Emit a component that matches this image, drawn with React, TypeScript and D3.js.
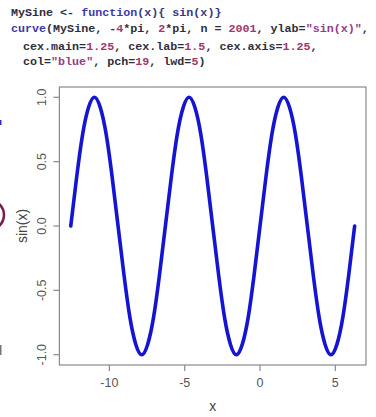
import React from "react";
import * as d3 from "d3";

// Curve samples (x in radians, y = plotted value)
const xValues = [
  -12.566, -12.174, -11.781, -11.388, -10.996, -10.603, -10.21, -9.817,
  -9.425, -9.032, -8.639, -8.247, -7.854, -7.461, -7.069, -6.676,
  -6.283, -5.89, -5.498, -5.105, -4.712, -4.32, -3.927, -3.534,
  -3.142, -2.749, -2.356, -1.963, -1.571, -1.178, -0.785, -0.393,
  0, 0.393, 0.785, 1.178, 1.571, 1.963, 2.356, 2.749,
  3.142, 3.534, 3.927, 4.32, 4.712, 5.105, 5.498, 5.89, 6.283,
];
const yValues = [
  0, 0.38, 0.71, 0.92, 1, 0.92, 0.71, 0.38, 0, -0.38, -0.71, -0.92, -1, -0.92, -0.71, -0.38,
  0, 0.38, 0.71, 0.92, 1, 0.92, 0.71, 0.38, 0, -0.38, -0.71, -0.92, -1, -0.92, -0.71, -0.38,
  0, 0.38, 0.71, 0.92, 1, 0.92, 0.71, 0.38, 0, -0.38, -0.71, -0.92, -1, -0.92, -0.71, -0.38,
  0,
];
const xTicks = [-10, -5, 0, 5];
const yTicks = [1.0, 0.5, 0.0, -0.5, -1.0];
const xTickLabels = ["-10", "-5", "0", "5"];
const yTickLabels = ["1.0", "0.5", "0.0", "-0.5", "-1.0"];
const xLabel = "x";
const yLabel = "sin(x)";

const DARK = "#2e2e3c";
const KW = "#3b3bac";
const NAVY = "#38387e";
const NUM = "#a5356f";
const STR = "#963b8e";

type Tok = [string, string];
const codeLines: { x: number; y: number; toks: Tok[] }[] = [
  {
    x: 11,
    y: 16,
    toks: [
      ["MySine <- ", DARK],
      ["function", KW],
      ["(x){ sin(x)}", NAVY],
    ],
  },
  {
    x: 11,
    y: 32,
    toks: [
      ["curve", KW],
      ["(MySine, -", DARK],
      ["4", NUM],
      ["*pi, ", DARK],
      ["2", NUM],
      ["*pi, n = ", DARK],
      ["2001", NUM],
      [", ylab=", DARK],
      ['"sin(x)"', STR],
      [",", DARK],
    ],
  },
  {
    x: 23,
    y: 50,
    toks: [
      ["cex.main=", DARK],
      ["1.25", NUM],
      [", cex.lab=", DARK],
      ["1.5", NUM],
      [", cex.axis=", DARK],
      ["1.25", NUM],
      [",", DARK],
    ],
  },
  {
    x: 23,
    y: 65,
    toks: [
      ["col=", DARK],
      ['"blue"', STR],
      [", pch=", DARK],
      ["19", NUM],
      [", lwd=", DARK],
      ["5", NUM],
      [")", DARK],
    ],
  },
];

export default function App() {
  const W = 376;
  const H = 417;
  const left = 59.4;
  const right = 366;
  const top = 87;
  const bottom = 365;

  const xMin = d3.min(xValues)!;
  const xMax = d3.max(xValues)!;
  const pad = (xMax - xMin) * 0.04;
  const x = d3.scaleLinear().domain([xMin - pad, xMax + pad]).range([left, right]);
  const y = d3.scaleLinear().domain([-1.08, 1.08]).range([bottom, top]);

  const pts: [number, number][] = xValues.map((v, i) => [v, yValues[i]]);
  const line = d3
    .line<[number, number]>()
    .x((d) => x(d[0]))
    .y((d) => y(d[1]))
    .curve(d3.curveNatural);

  const font = "'Liberation Sans', Arial, Helvetica, sans-serif";

  return (
    <svg
      width={W}
      height={H}
      style={{ position: "absolute", left: 0, top: 0, background: "#fff" }}
    >
      <rect x={0} y={0} width={W} height={H} fill="#fff" />
      {/* code text */}
      {codeLines.map((ln, i) => (
        <text
          key={i}
          x={ln.x}
          y={ln.y}
          fontFamily="'Liberation Mono', 'DejaVu Sans Mono', monospace"
          fontWeight="bold"
          fontSize={11.7}
          style={{ whiteSpace: "pre" }}
        >
          {ln.toks.map((t, j) => (
            <tspan key={j} fill={t[1]}>
              {t[0]}
            </tspan>
          ))}
        </text>
      ))}

      {/* slide edge artifacts */}
      <rect x={0} y={120} width={1.5} height={5} fill="#3030c0" />
      <circle cx={-11} cy={215} r={15} fill="none" stroke="#7a1d55" strokeWidth={2.5} />
      <rect x={0} y={345} width={1.5} height={10} fill="#777" />

      {/* box */}
      <rect
        x={left}
        y={top}
        width={right - left}
        height={bottom - top}
        fill="none"
        stroke="#8a8a8a"
        strokeWidth={1.2}
      />

      {/* x axis */}
      {xTicks.map((t, i) => (
        <g key={i}>
          <line x1={x(t)} x2={x(t)} y1={bottom} y2={bottom + 6} stroke="#8a8a8a" strokeWidth={1.2} />
          <text
            x={x(t)}
            y={387}
            textAnchor="middle"
            fontFamily={font}
            fontSize={12.5}
            fill="#555"
          >
            {xTickLabels[i]}
          </text>
        </g>
      ))}
      {/* y axis */}
      {yTicks.map((t, i) => (
        <g key={i}>
          <line x1={left - 6} x2={left} y1={y(t)} y2={y(t)} stroke="#8a8a8a" strokeWidth={1.2} />
          <text
            transform={`translate(46,${y(t)}) rotate(-90)`}
            textAnchor="middle"
            fontFamily={font}
            fontSize={12.5}
            fill="#555"
          >
            {yTickLabels[i]}
          </text>
        </g>
      ))}

      <text
        x={(left + right) / 2}
        y={411}
        textAnchor="middle"
        fontFamily={font}
        fontSize={14}
        fill="#444"
      >
        {xLabel}
      </text>
      <text
        transform={`translate(27,${(top + bottom) / 2}) rotate(-90)`}
        textAnchor="middle"
        fontFamily={font}
        fontSize={14}
        fill="#444"
      >
        {yLabel}
      </text>

      {/* curve */}
      <path
        d={line(pts) || ""}
        fill="none"
        stroke="#1414d2"
        strokeWidth={3.6}
        strokeLinecap="round"
        strokeLinejoin="round"
      />
    </svg>
  );
}
